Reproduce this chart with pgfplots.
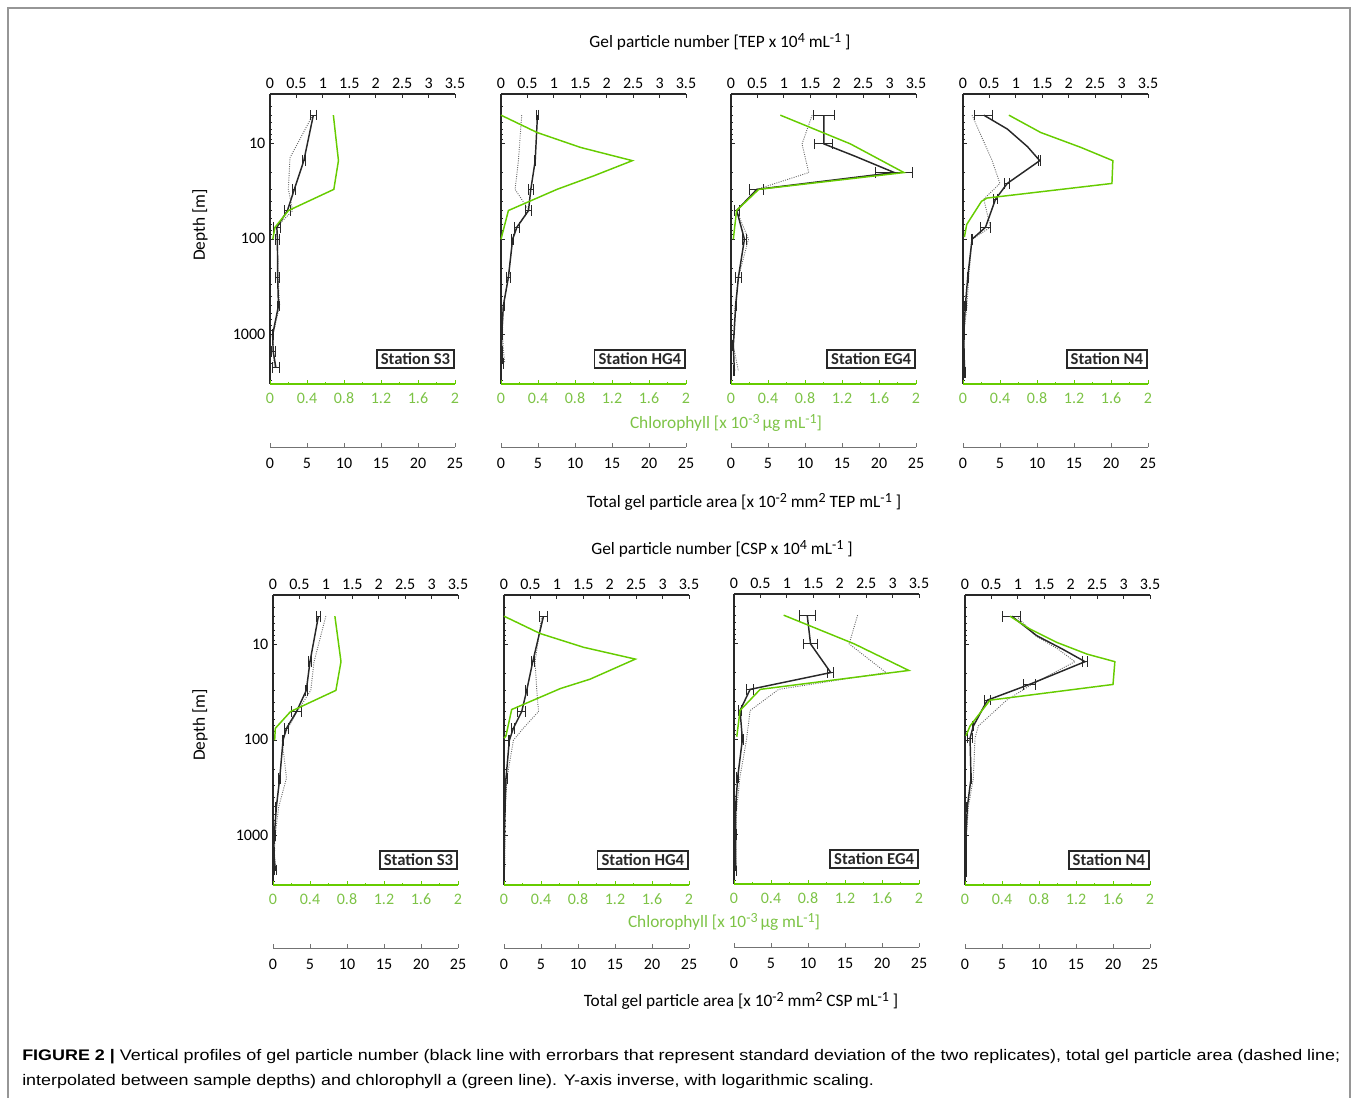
\documentclass[border=0pt]{standalone}
\usepackage{pgfplots}
\pgfplotsset{compat=1.18}
\usepackage{fontspec}
\setmainfont{Carlito}
\newfontfamily\capfont{Liberation Sans}
\definecolor{chl}{RGB}{102,204,0}
\definecolor{chltext}{RGB}{125,195,70}
\definecolor{gel}{RGB}{40,40,40}
\definecolor{areac}{RGB}{105,105,105}
\definecolor{framec}{RGB}{150,150,150}
\newsavebox\capA
\newsavebox\capB
\newcommand{\tickfont}{\fontsize{12}{14}\selectfont}
\newcommand{\su}[1]{\raisebox{0.6ex}{\fontsize{10.5}{12}\selectfont #1}}
% #1 left px, #2 top px, #3 station, #4 y tick labels, #5 gel with errors, #6 area, #7 chl, #8 gel curve (optional)
\newcommand{\panel}[8]{%
 \begin{axis}[ymode=log, y dir=reverse, ymin=3, ymax=3300, xmin=0, xmax=25,
     scale only axis, width=138.75pt, height=217.5pt, anchor=north west,
     at={({#1*0.75pt},{-#2*0.75pt})}, hide axis, clip=false]
   \addplot[areac, densely dotted, line width=0.7pt, no markers] coordinates {#6};
 \end{axis}
 \begin{axis}[ymode=log, y dir=reverse, ymin=3, ymax=3300, xmin=0, xmax=3.5,
     scale only axis, width=138.75pt, height=217.5pt, anchor=north west,
     at={({#1*0.75pt},{-#2*0.75pt})}, clip=false,
     axis x line*=top, axis y line*=left,
     xtick={0,0.5,1,1.5,2,2.5,3,3.5}, ytick={10,100,1000}, yticklabels={#4},
     minor ytick={3,4,5,6,7,8,9,20,30,40,50,60,70,80,90,200,300,400,500,600,700,800,900,2000,3000},
     tick align=inside, major tick length=3pt, minor tick length=1.8pt,
     axis line style={gel, line width=0.9pt}, tick style={gel, line width=0.6pt},
     typeset ticklabels with strut,
     tick label style={font=\tickfont}, x tick label style={yshift=-3.5pt},
     y tick label style={yshift=-0.75pt},
     /pgf/number format/assume math mode=true]
   \def\curvepts{#8}%
   \ifx\curvepts\empty
     \addplot[gel, line width=1.1pt, no markers] coordinates {#5};
   \else
     \addplot[gel, line width=1.1pt, no markers] coordinates {#8};
   \fi
   \addplot[draw=none, no markers, forget plot,
     error bars/x dir=both, error bars/x explicit, error bars/error mark=|,
     error bars/error bar style={draw=gel, line width=0.7pt},
     error bars/error mark options={draw=gel, line width=0.7pt, mark size=4pt}] coordinates {#5};
   \node[draw=gel, line width=1.3pt, anchor=south east, inner xsep=3pt, inner ysep=2.5pt,
     font=\bfseries\fontsize{12.5}{14}\selectfont, text=gel, fill=white]
     at ([yshift=11.25pt]axis description cs:1,0) {#3};
 \end{axis}
 \begin{axis}[ymode=log, y dir=reverse, ymin=3, ymax=3300, xmin=0, xmax=2,
     scale only axis, width=138.75pt, height=217.5pt, anchor=north west,
     at={({#1*0.75pt},{-#2*0.75pt})}, clip=false,
     axis x line*=bottom, axis y line=none,
     xtick={0,0.4,0.8,1.2,1.6,2}, minor xtick={0.2,0.6,1,1.4,1.8},
     tick align=inside, major tick length=3pt, minor tick length=1.8pt,
     axis line style={chl, line width=1pt}, tick style={chl, line width=0.6pt},
     typeset ticklabels with strut,
     tick label style={font=\tickfont, text=chltext, yshift=-1.5pt},
     /pgf/number format/assume math mode=true]
   \addplot[chl, line width=1.1pt, no markers] coordinates {#7};
 \end{axis}
 \begin{axis}[scale only axis, width=138.75pt, height=10pt, anchor=south west,
     at={({#1*0.75pt},{-(#2+353)*0.75pt})},
     xmin=0, xmax=25, ymin=0, ymax=1, axis x line*=bottom, axis y line=none,
     xtick={0,5,10,15,20,25}, tick align=inside, major tick length=3pt,
     axis line style={black!55, line width=0.6pt}, tick style={black!55, line width=0.6pt},
     typeset ticklabels with strut,
     tick label style={font=\tickfont, yshift=-3pt}, /pgf/number format/assume math mode=true]
   \addplot[draw=none, forget plot] coordinates {(0,0)};
 \end{axis}
}
\begin{document}
\sbox\capA{\capfont\fontsize{11.5}{13}\selectfont\textbf{FIGURE 2 |} Vertical profiles of gel particle number (black line with errorbars that represent standard deviation of the two replicates), total gel particle area (dashed line;}%
\sbox\capB{\capfont\fontsize{11.5}{13}\selectfont interpolated between sample depths) and chlorophyll a (green line). Y-axis inverse, with logarithmic scaling.}%
\begin{tikzpicture}
\useasboundingbox (0,0) rectangle (1018.5pt,-822.75pt);
\draw[framec, line width=0.8pt] (6pt,-830pt) -- (6pt,-6pt) -- (1012.5pt,-6pt) -- (1012.5pt,-830pt);

% ---------- top row (TEP) ----------
\panel{270}{94}{Station S3}{10,100,1000}
 {(0.82,5) +- (0.05,0) (0.64,15) +- (0.03,0) (0.46,30) +- (0.03,0) (0.33,50) +- (0.06,0) (0.13,75) +- (0.06,0) (0.14,100) +- (0.03,0) (0.145,250) +- (0.04,0) (0.16,500) +- (0.01,0) (0.05,1000) +- (0.01,0) (0.06,1500) +- (0.04,0) (0.11,2200) +- (0.07,0)}
 {(5.77,5) (2.7,14) (2.48,30) (3.06,50) (0.85,75) (1.0,100) (1.1,250) (1.3,500) (0.4,1000) (0.45,1500) (0.6,2200)}
 {(0.685,5) (0.74,15) (0.69,30) (0.2,50) (0.054,75) (0.03,100)}
 {}
\panel{501}{94}{Station HG4}{}
 {(0.69,5) +- (0.02,0) (0.647,15) +- (0.01,0) (0.564,30) +- (0.05,0) (0.52,50) +- (0.05,0) (0.30,75) +- (0.05,0) (0.22,100) +- (0.02,0) (0.14,250) +- (0.04,0) (0.044,500) +- (0.03,0) (0.013,1000) +- (0.01,0) (0.013,1500) +- (0.01,0) (0.03,2000) +- (0.02,0)}
 {(2.8,5) (2.35,15) (1.9,30) (3.8,50) (2.1,75) (1.55,100) (1.0,250) (0.3,500) (0.2,1000) (0.35,1500) (0.5,2000)}
 {(0,5) (0.39,7.6) (0.86,10.9) (1.42,15) (1.0,21.7) (0.605,30) (0.08,50) (0.0,100)}
 {}
\panel{731}{94}{Station EG4}{}
 {(1.756,5) +- (0.2,0) (1.756,10) +- (0.17,0) (3.09,20) +- (0.35,0) (0.488,30) +- (0.13,0) (0.108,50) +- (0.05,0) (0.254,100) +- (0.03,0) (0.14,250) +- (0.05,0) (0.089,500) +- (0.01,0) (0.044,1300) +- (0.01,0) (0.063,2400) +- (0.01,0)}
 {(10.96,5) (9.6,10) (10.5,20) (3.5,30) (0.77,50) (2.36,100) (1.0,250) (0.55,500) (0.3,1300) (1.0,2400)}
 {(0.533,5) (1.29,10) (1.87,20) (0.30,30) (0.06,50) (0.025,100)}
 {(1.756,5) (1.756,10) (2.35,13.5) (3.09,20) (0.488,30) (0.108,50) (0.254,100) (0.14,250) (0.089,500) (0.044,1300) (0.063,2400)}
\panel{963}{94}{Station N4}{}
 {(0.393,5) +- (0.17,0) (1.452,15) +- (0.02,0) (0.837,26) +- (0.05,0) (0.615,38) +- (0.04,0) (0.425,75) +- (0.1,0) (0.171,100) +- (0.01,0) (0.089,250) +- (0.01,0) (0.044,500) +- (0.02,0) (0.013,1000) +- (0.01,0) (0.025,2000) +- (0.01,0) (0.032,2500) +- (0.01,0)}
 {(1.22,5) (3.94,15) (4.98,26) (2.81,38) (3.7,75) (1.22,100) (0.77,250) (0.54,500) (0.09,1000) (0.2,2000) (0.25,2500)}
 {(0.496,5) (0.84,7.6) (1.275,10.9) (1.62,15) (1.61,26) (0.26,37) (0.2,40) (0.04,70) (0.015,95)}
 {(0.393,5) (0.84,7) (1.22,10.7) (1.452,15) (0.837,26) (0.615,38) (0.425,75) (0.171,100) (0.089,250) (0.044,500) (0.013,1000) (0.025,2000) (0.032,2500)}

% ---------- bottom row (CSP) ----------
\panel{273}{595}{Station S3}{10,100,1000}
 {(0.859,5) +- (0.03,0) (0.70,15) +- (0.03,0) (0.63,30) +- (0.02,0) (0.445,50) +- (0.1,0) (0.255,75) +- (0.03,0) (0.19,100) +- (0.01,0) (0.127,250) +- (0.02,0) (0.064,500) +- (0.01,0) (0.025,1000) +- (0.02,0) (0.013,1500) +- (0.01,0) (0.045,2300) +- (0.02,0)}
 {(7.14,5) (5.55,15) (5.1,30) (3.27,50) (2.0,75) (1.23,100) (1.82,250) (0.77,500) (0.3,1000) (0.2,1500) (0.3,2300)}
 {(0.669,5) (0.735,15) (0.68,30) (0.19,50) (0.025,75) (0.018,100)}
 {}
\panel{504}{595}{Station HG4}{}
 {(0.747,5) +- (0.07,0) (0.544,15) +- (0.03,0) (0.43,30) +- (0.02,0) (0.335,50) +- (0.08,0) (0.177,75) +- (0.03,0) (0.101,100) +- (0.01,0) (0.038,250) +- (0.02,0) (0.019,500) +- (0.01,0) (0.006,1000) +- (0.01,0) (0.003,2300) +- (0.01,0)}
 {(5.1,5) (4.2,15) (4.43,30) (4.66,50) (2.6,75) (1.27,100) (0.4,250) (0.2,500) (0.15,1000) (0.1,2300)}
 {(0,5) (0.39,7.6) (0.86,10.6) (1.42,14.1) (0.93,22.9) (0.61,28.7) (0.083,47.6) (0.02,91) (0.0,95)}
 {}
\panel{734}{594}{Station EG4}{}
 {(1.385,5) +- (0.15,0) (1.448,10) +- (0.13,0) (1.83,20) +- (0.06,0) (0.305,30) +- (0.07,0) (0.114,50) +- (0.03,0) (0.159,100) +- (0.02,0) (0.07,250) +- (0.02,0) (0.032,500) +- (0.01,0) (0.032,1000) +- (0.01,0) (0.032,2400) +- (0.02,0)}
 {(16.7,5) (15.56,10) (20.55,20) (6.03,30) (2.18,50) (1.7,100) (0.8,250) (0.4,500) (0.2,1000) (0.3,2400)}
 {(0.537,5) (1.3,10) (1.89,19) (0.283,30) (0.065,50) (0.03,94)}
 {}
\panel{965}{595}{Station N4}{}
 {(0.883,5) +- (0.17,0) (2.27,15) +- (0.05,0) (1.217,26) +- (0.11,0) (0.423,38) +- (0.05,0) (0.158,71) +- (0.01,0) (0.095,95) +- (0.05,0) (0.114,250) +- (0.01,0) (0.044,500) +- (0.01,0) (0.019,1000) +- (0.01,0) (0.019,2400) +- (0.01,0)}
 {(6.98,5) (9.5,8) (12.5,11) (14.86,15) (9.0,26) (5.63,38) (1.8,71) (1.35,95) (1.13,250) (0.45,500) (0.2,1000) (0.15,2400)}
 {(0.486,5) (0.70,6.8) (0.99,9.4) (1.32,12.5) (1.62,15) (1.6,26) (0.27,38) (0.054,71) (0.01,90)}
 {(0.883,5) (1.356,8) (1.86,11.2) (2.27,15) (1.217,26) (0.423,38) (0.158,71) (0.095,95) (0.114,250) (0.044,500) (0.019,1000) (0.019,2400)}

% ---------- labels ----------
\begin{scope}[every node/.style={font=\fontsize{13}{15}\selectfont, inner sep=0pt}]
\node at (540pt,-31.5pt) {Gel particle number [TEP x 10\su{4} mL\su{-1} ]};
\node at (541.5pt,-411.75pt) {Gel particle number [CSP x 10\su{4} mL\su{-1} ]};
\node[rotate=90] at (150pt,-168.75pt) {Depth [m]};
\node[rotate=90] at (150pt,-543.75pt) {Depth [m]};
\node[text=chltext] at (544.5pt,-317.25pt) {Chlorophyll [x 10\su{-3}\,µg mL\su{-1}]};
\node[text=chltext] at (543pt,-691.5pt) {Chlorophyll [x 10\su{-3}\,µg mL\su{-1}]};
\node at (558pt,-376.5pt) {Total gel particle area [x 10\su{-2} mm\su{2} TEP mL\su{-1} ]};
\node at (555.75pt,-750.75pt) {Total gel particle area [x 10\su{-2} mm\su{2} CSP mL\su{-1} ]};
\end{scope}
\pgfmathsetmacro\capscale{988.5/\wd\capA}
\node[anchor=west, inner sep=0pt] at (16.5pt,-792.75pt) {\scalebox{\capscale}[1]{\usebox\capA}};
\node[anchor=west, inner sep=0pt] at (16.5pt,-811.5pt) {\scalebox{\capscale}[1]{\usebox\capB}};
\end{tikzpicture}
\end{document}
